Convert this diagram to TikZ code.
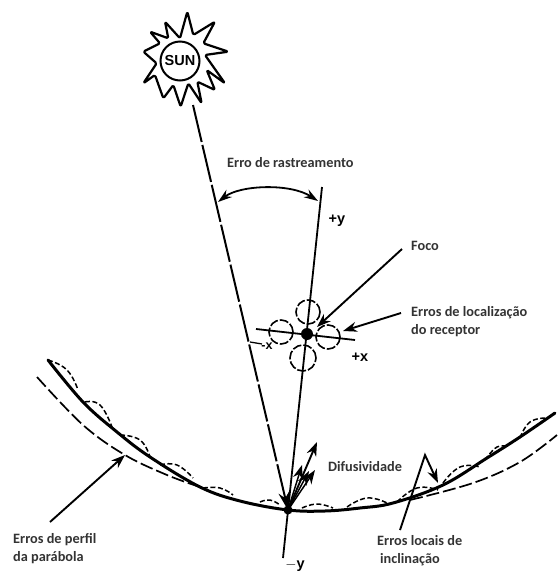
\documentclass[tikz,border=0pt]{standalone}
\usepackage{fontspec}
\setmainfont{Carlito}
\newfontfamily\axisfont{Liberation Sans}
\usetikzlibrary{arrows.meta}
\definecolor{labelgray}{gray}{0.2}
\tikzset{
  x=1pt,y=-1pt,
  ink/.style={draw=black,line width=1.8pt},
  thickcurve/.style={draw=black,line width=3pt,line cap=round},
  profile/.style={draw=black,line width=1.7pt,dash pattern=on 13pt off 4pt},
  bump/.style={draw=black,line width=1.5pt,dash pattern=on 5pt off 2.5pt},
  beam/.style={draw=black,line width=2pt,dash pattern=on 38pt off 3pt},
  pointer/.style={draw=black,line width=1.9pt,-{Stealth[length=14pt,width=10pt]}},
  errcircle/.style={draw=black,line width=1.6pt,dash pattern=on 9pt off 2pt,circle,minimum size=24pt,inner sep=0pt},
  lbl/.style={font=\bfseries\fontsize{14.3}{18}\selectfont,text=labelgray,anchor=west,align=left,inner sep=0pt},
  axislbl/.style={font=\axisfont\bfseries\fontsize{14.5}{15}\selectfont,inner sep=0pt}
}
\begin{document}
\begin{tikzpicture}
\useasboundingbox (0,0) rectangle (558,571);
% sun
\node[draw=black,line width=2pt,circle,minimum size=39pt,inner sep=0pt,font=\axisfont\bfseries\fontsize{14.5}{15}\selectfont] (sun) at (180,61) {SUN};
\begin{scope}[shift={(110,0)},x=0.3333pt,y=-0.3333pt]
\draw[line width=2.2pt,line join=round,rounded corners=1.5pt] (232,35)--(250,105)--(315,65)--(280,130)--(355,155)--(285,165)--(345,250)--(290,210)--(315,270)--(262,245)--(275,310)--(235,250)--(212,320)--(190,255)--(160,295)--(135,225)--(100,250)--(140,190)--(100,155)--(150,130)--(120,95)--(175,115)--(165,65)--(210,115)--cycle;
\end{scope}
% key points
\coordinate (vertex) at (288,510);
\coordinate (beamstart) at (193,105);
\coordinate (ytop) at (322,187);
\coordinate (ybot) at (283,558);
\coordinate (xleft) at (256,329);
\coordinate (xright) at (355,340);
\coordinate (focus) at (307,334);
\coordinate (beamtick) at (250,342);
\coordinate (arcL) at (218,202);
\coordinate (arcR) at (318,201);
% mirror
\draw[thickcurve] plot[smooth,tension=0.6] coordinates {(48,360) (83,402) (117,432) (150,457) (200,487) (240,501) (288,510) (325,511) (360,508) (393,503) (443,485) (487,458) (520,437) (555,413)};
\draw[profile] plot[smooth,tension=0.6] coordinates {(37,377) (83,425) (125,455) (167,475) (200,487)};
\draw[profile] plot[smooth,tension=0.6] coordinates {(410,500) (473,483) (520,462) (557,435)};
% bumps
\foreach \ax/\ay/\bx/\by/\cx/\cy in {48/360/67/370/78/390,85/402/100/405/112/427,120/435/140/440/150/457,160/465/177/465/193/478,203/488/220/488/233/495,260/502/270/500/280/505,302/508/317/504/333/508,347/507/367/498/387/503,397/502/417/488/438/490,443/483/460/467/480/467,485/460/497/447/508/447,520/438/530/422/547/418}
  \draw[bump] plot[smooth,tension=0.8] coordinates {(\ax,\ay) (\bx,\by) (\cx,\cy)};
% axes and beam
\draw[ink] (ytop) -- (ybot);
\draw[ink] (xleft) -- (xright);
\draw[beam,-{Stealth[length=18pt,width=11pt]}] (beamstart) -- (vertex);
\fill (focus) circle (6pt);
\fill (vertex) circle (4.5pt);
\draw[ink,line width=1.3pt] (beamtick) -- ++(12,2);
% receiver error circles
\node[errcircle] (cT) at (308,312) {};
\node[errcircle] (cL) at (281,332) {};
\node[errcircle] (cR) at (328,337) {};
\node[errcircle,minimum size=26pt] (cB) at (303,358) {};
% tracking arc
\draw[ink,{Stealth[length=14pt,width=9pt]}-{Stealth[length=14pt,width=9pt]}] (arcL) .. controls (240,185) and (290,183) .. (arcR);
% diffusivity arrows
\coordinate (d1) at (317,442);
\coordinate (d2) at (302,465);
\coordinate (d3) at (315,470);
\coordinate (d4) at (309,471);
\draw[pointer] (vertex) -- (d1);
\draw[pointer,line width=1.5pt] (vertex) -- (d2);
\draw[pointer,line width=1.5pt] (vertex) -- (d3);
\draw[pointer,line width=1.5pt] (vertex) -- (d4);
% labels
\node[lbl] (track) at (227,163) {Erro de rastreamento};
\node[lbl] (foco) at (411,246) {Foco};
\node[lbl] (recv) at (411,322) {Erros de localização\\do receptor};
\node[lbl] (dif) at (328,467) {Difusividade};
\node[lbl] (prof) at (13,549) {Erros de perfil\\da parábola};
\node[lbl] (local) at (377,551) {Erros locais de\\\hspace*{3pt}inclinação};
\node[axislbl] (yplus) at (337,221) {+y};
\node[axislbl] (yminus) at (295,566) {$-$y};
\node[axislbl] (xplus) at (360,357) {+x};
\node[axislbl,font=\axisfont\bfseries\fontsize{12.5}{13}\selectfont] (xminus) at (267,346) {-x};
% pointers
\coordinate (focoTail) at (402,249);
\coordinate (focoTip) at (317,327);
\coordinate (recvTail) at (401,313);
\coordinate (recvTip) at (343,331);
\coordinate (profTail) at (50,522);
\coordinate (profTip) at (125,455);
\coordinate (localTail) at (400,530);
\coordinate (localApex) at (425,455);
\coordinate (localTip) at (438,483);
\draw[pointer] (focoTail) -- (focoTip);
\draw[pointer] (recvTail) -- (recvTip);
\draw[pointer] (profTail) -- (profTip);
\draw[pointer,line join=miter] (localTail) -- (localApex) -- (localTip);
\end{tikzpicture}
\end{document}
